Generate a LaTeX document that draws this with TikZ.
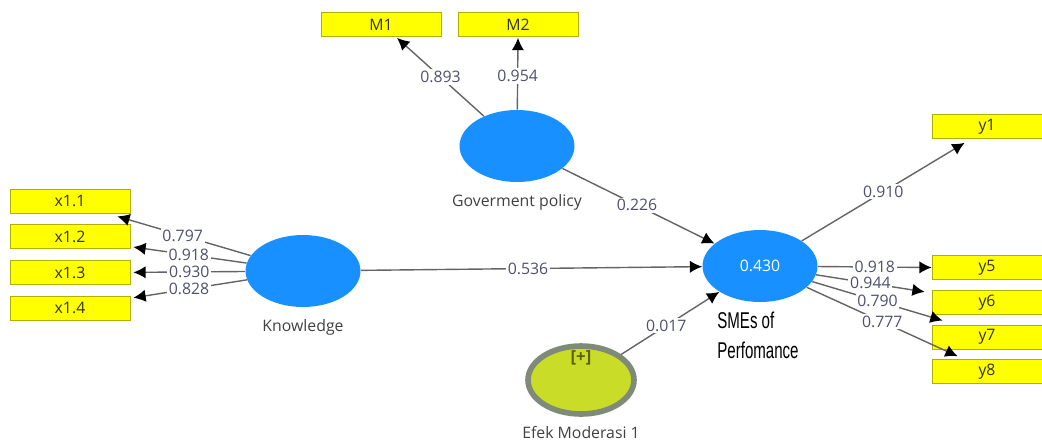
\documentclass[tikz,border=0pt]{standalone}
\usepackage{fontspec}
\setsansfont{Open Sans}
\newfontfamily\narrowsans[FakeStretch=0.66]{Liberation Sans}
\usetikzlibrary{arrows.meta, positioning, shapes.geometric}
\definecolor{plsblue}{RGB}{24,144,255}
\definecolor{plsyellow}{RGB}{255,255,0}
\definecolor{plsedge}{RGB}{176,176,0}
\definecolor{plsline}{RGB}{100,100,100}
\definecolor{plstext}{RGB}{80,80,110}
\definecolor{modfill}{RGB}{200,220,40}
\definecolor{modring}{RGB}{128,138,120}
\definecolor{plusolive}{RGB}{96,96,0}

\begin{document}
\begin{tikzpicture}[x=0.02cm, y=-0.02cm,
      node distance=0.22cm,
      ind/.style={draw=plsedge, fill=plsyellow, minimum width=2.4cm,
                  minimum height=0.48cm, inner sep=0pt,
                  font=\sffamily\fontsize{9}{10}\selectfont, text=black!80},
      indr/.style={ind, minimum width=2.2cm},
      lv/.style={ellipse, fill=plsblue, minimum width=2.3cm,
                 minimum height=1.44cm, inner sep=0pt},
      lvcap/.style={font=\sffamily\fontsize{9}{10}\selectfont, text=black!75},
      arr/.style={-{Latex[length=7pt,width=7pt,color=black]}, plsline,
                  line width=0.8pt},
      wt/.style={fill=white, inner sep=1pt,
                 font=\sffamily\fontsize{9}{10}\selectfont, text=plstext}
    ]
    \useasboundingbox (0,0) rectangle (1042,441);

    % latent variables
    \node[lv] (know) at (303,271) {};
    \node[lv] (gov)  at (517,146) {};
    \node[lv] (sme)  at (760,266)
      {\sffamily\fontsize{9}{10}\selectfont\color{white}0.430};
    \node[ellipse, draw=modring, line width=3.2pt, fill=modfill,
          minimum width=2.12cm, minimum height=1.36cm] (efek) at (581,380) {};
    \node[font=\sffamily\bfseries\fontsize{9.5}{10}\selectfont, text=plusolive]
      (plus) at ([yshift=-0.3cm]efek.north) {[+]};

    \node[lvcap, below=0.12cm of know] (knowcap) {Knowledge};
    \node[lvcap, below=0.12cm of gov]  (govcap)  {Goverment policy};
    \node[lvcap, below=0.06cm of efek] (efekcap) {Efek Moderasi 1};
    \node[anchor=north west, inner sep=0pt, align=left,
          font=\narrowsans\fontsize{13}{17}\selectfont]
      (smecap) at (717,312) {SMEs of\\Perfomance};

    % indicators
    \node[ind] (x11) at (70,201) {x1.1};
    \node[ind, below=of x11] (x12) {x1.2};
    \node[ind, below=of x12] (x13) {x1.3};
    \node[ind, below=of x13] (x14) {x1.4};
    \node[ind] (m1) at (381,24.5) {M1};
    \node[ind] (m2) at (518,24.5) {M2};
    \node[indr] (y1) at (987,126.5) {y1};
    \node[indr] (y5) at (987,267.5) {y5};
    \node[indr, below=0.2cm of y5] (y6) {y6};
    \node[indr, below=0.2cm of y6] (y7) {y7};
    \node[indr, below=0.2cm of y7] (y8) {y8};

    % outer loadings
    \draw[arr] (know) -- ([xshift=-0.26cm,yshift=-0.06cm]x11.south east)
      node[wt, pos=0.51] {0.797};
    \draw[arr] (know) -- ([xshift=0.06cm,yshift=0.04cm]x12.south east)
      node[wt, pos=0.51] {0.918};
    \draw[arr] (know) -- ([xshift=0.06cm]x13.east)
      node[wt, pos=0.5] {0.930};
    \draw[arr] (know) -- ([xshift=0.06cm,yshift=-0.04cm]x14.north east)
      node[wt, pos=0.51] {0.828};
    \draw[arr] (gov) -- ([xshift=0.32cm,yshift=-0.02cm]m1.south)
      node[wt, pos=0.5] {0.893};
    \draw[arr] (gov) -- ([yshift=-0.02cm]m2.south)
      node[wt, pos=0.47] {0.954};
    \draw[arr] (sme) -- ([xshift=0.66cm,yshift=-0.08cm]y1.south west)
      node[wt, pos=0.5] {0.910};
    \draw[arr] (sme) -- (y5.west)
      node[wt, pos=0.5] {0.918};
    \draw[arr] (sme) -- ([xshift=-0.14cm,yshift=-0.04cm]y6.north west)
      node[wt, pos=0.5] {0.944};
    \draw[arr] (sme) -- ([xshift=0.22cm,yshift=0.08cm]y7.north west)
      node[wt, pos=0.5] {0.790};
    \draw[arr] (sme) -- ([xshift=0.52cm,yshift=0.06cm]y8.north west)
      node[wt, pos=0.5] {0.777};

    % path coefficients
    \draw[arr] (know) -- (sme) node[wt, pos=0.49] {0.536};
    \draw[arr] (gov)  -- (sme) node[wt, pos=0.49] {0.226};
    \draw[arr] (efek) -- (sme) node[wt, pos=0.46] {0.017};
  \end{tikzpicture}
\end{document}
